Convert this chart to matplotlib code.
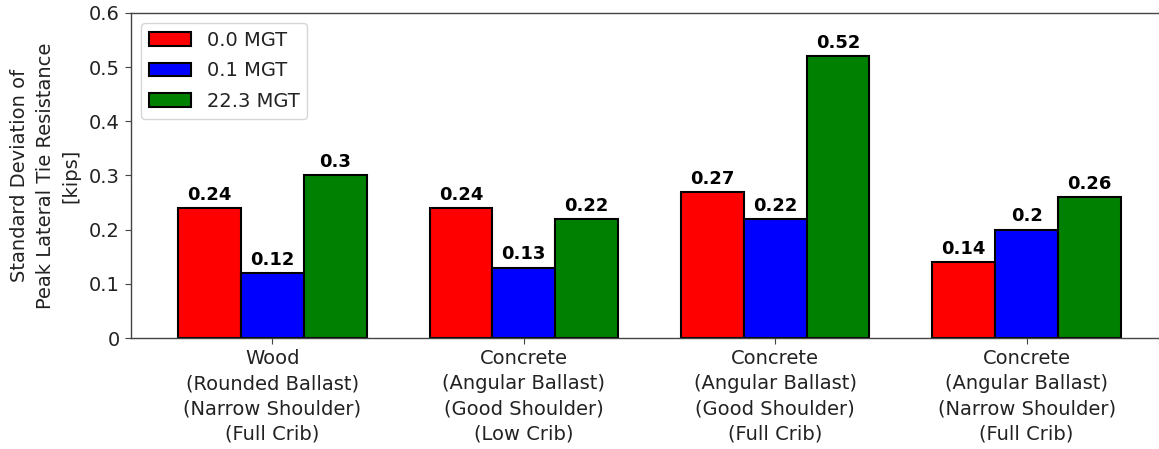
import matplotlib
matplotlib.use("Agg")
import matplotlib.pyplot as plt
import numpy as np

plt.rcParams['font.family'] = ['DejaVu Sans']

categories = [
    "Wood\n(Rounded Ballast)\n(Narrow Shoulder)\n(Full Crib)",
    "Concrete\n(Angular Ballast)\n(Good Shoulder)\n(Low Crib)",
    "Concrete\n(Angular Ballast)\n(Good Shoulder)\n(Full Crib)",
    "Concrete\n(Angular Ballast)\n(Narrow Shoulder)\n(Full Crib)",
]
series_names = ["0.0 MGT", "0.1 MGT", "22.3 MGT"]
vals_00 = [0.24, 0.24, 0.27, 0.14]
vals_01 = [0.12, 0.13, 0.22, 0.20]
vals_223 = [0.30, 0.22, 0.52, 0.26]
labels_00 = ["0.24", "0.24", "0.27", "0.14"]
labels_01 = ["0.12", "0.13", "0.22", "0.2"]
labels_223 = ["0.3", "0.22", "0.52", "0.26"]
colors = ["red", "blue", "green"]

FS = 14
fig = plt.figure(figsize=(11.59, 4.49), dpi=100)
ax = fig.add_axes([131/1159, 1-338/449, (1168-131)/1159, (338-13)/449])

x = np.arange(len(categories))
w = 0.25
series = [vals_00, vals_01, vals_223]
labs = [labels_00, labels_01, labels_223]
for i, (vals, lab) in enumerate(zip(series, labs)):
    bars = ax.bar(x + (i-1)*w, vals, w, color=colors[i], edgecolor="black",
                  linewidth=1.5, label=series_names[i])
    ax.bar_label(bars, labels=lab, padding=3, fontsize=13, fontweight="bold")

ax.set_xticks(x)
ax.set_xticklabels(categories, fontsize=FS, linespacing=1.4, color="#222222")
ax.set_ylim(0, 0.6)
ax.set_yticks([0, 0.1, 0.2, 0.3, 0.4, 0.5, 0.6])
ax.set_yticklabels(["0", "0.1", "0.2", "0.3", "0.4", "0.5", "0.6"], fontsize=FS, color="#222222")
ax.tick_params(length=4.5, color="#444444")
for s in ax.spines.values():
    s.set_color("#444444")
    s.set_linewidth(1.0)
ax.set_ylabel("Standard Deviation of\nPeak Lateral Tie Resistance\n[kips]", fontsize=FS,
              linespacing=1.45, color="#222222", labelpad=6)
leg = ax.legend(loc="upper left", fontsize=FS, labelspacing=0.6, handlelength=2.2)
for t in leg.get_texts():
    t.set_color("#222222")

fig.savefig("out.png", dpi=100)
